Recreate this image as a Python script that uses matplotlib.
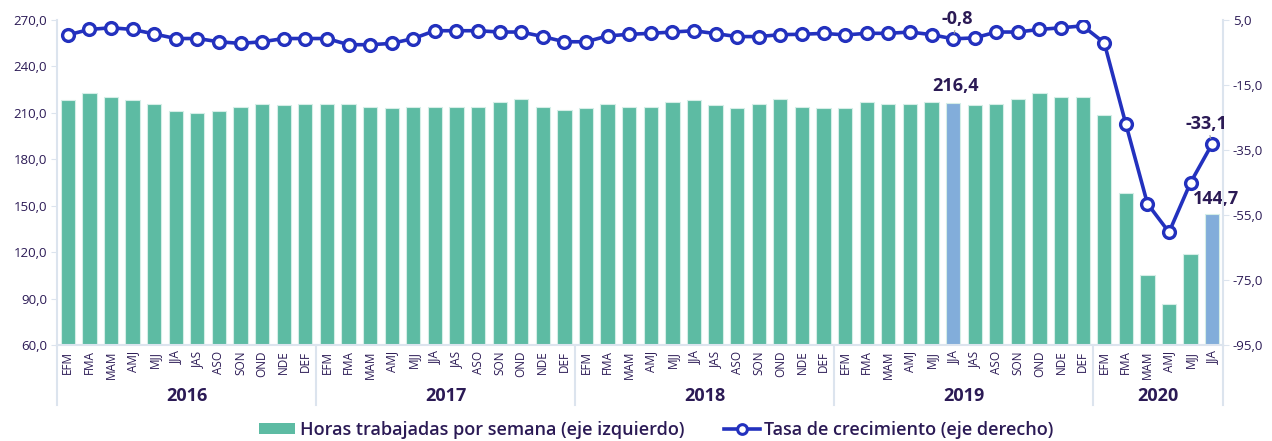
import matplotlib
matplotlib.use("Agg")
import matplotlib.pyplot as plt
from matplotlib.lines import Line2D
from matplotlib.patches import Patch
import matplotlib.transforms as mtransforms

plt.rcParams['font.family'] = ['Open Sans', 'DejaVu Sans']

months = ["EFM", "FMA", "MAM", "AMJ", "MJJ", "JJA", "JAS", "ASO", "SON", "OND", "NDE", "DEF"]
years = ["2016", "2017", "2018", "2019", "2020"]
year_counts = [12, 12, 12, 12, 6]
categories = months * 4 + months[:6]

horas = [218.1, 222.9, 220.0, 218.1, 216.0, 211.3, 210.2, 211.3, 214.0, 216.0, 215.1, 216.0,
         216.0, 216.0, 214.0, 213.2, 214.0, 214.0, 214.0, 214.0, 217.1, 219.0, 214.0, 212.1,
         213.2, 216.0, 214.0, 214.0, 217.1, 218.1, 215.1, 213.2, 216.0, 219.0, 214.0, 213.2,
         213.2, 217.1, 216.0, 216.0, 217.1, 216.4, 215.1, 216.0, 219.0, 222.9, 220.0, 220.0,
         208.3, 158.1, 105.0, 86.2, 118.9, 144.7]

tasa = [0.4, 2.1, 2.6, 2.1, 0.7, -0.7, -0.7, -1.7, -2.2, -1.7, -0.7, -0.7,
        -0.7, -2.6, -2.6, -2.2, -0.7, 1.7, 1.7, 1.7, 1.3, 1.3, -0.1, -1.7,
        -1.7, 0.1, 0.6, 0.9, 1.3, 1.7, 0.8, -0.1, -0.1, 0.5, 0.6, 0.9,
        0.4, 0.9, 0.9, 1.3, 0.5, -0.8, -0.5, 1.3, 1.3, 2.1, 2.6, 3.2,
        -2.0, -27.0, -51.5, -60.3, -45.0, -33.1]

highlight = [41, 53]

green = "#5DBBA3"
blue_bar = "#82ADDA"
line_c = "#2331BE"
text_c = "#2B1A55"
spine_c = "#DCE4EE"

fig = plt.figure(figsize=(12.72, 4.41), dpi=100)
ax = fig.add_axes([57 / 1272, 1 - 345 / 441, (1223 - 57) / 1272, 325 / 441])
x = list(range(len(horas)))
colors = [blue_bar if i in highlight else green for i in x]
ax.bar(x, horas, width=0.66, color=colors, edgecolor="#D5EEE7", linewidth=0.8, zorder=2)
ax.set_ylim(60, 270)
ax.set_xlim(-0.5, len(horas) - 0.5)
lt = [60, 90, 120, 150, 180, 210, 240, 270]
ax.set_yticks(lt)
ax.set_yticklabels([f"{v:.1f}".replace(".", ",") for v in lt])
ax.set_xticks(x)
ax.set_xticklabels(categories, rotation=90, fontsize=8.5, color=text_c, va="top")
ax.tick_params(axis="x", length=0, pad=4)
ax.tick_params(axis="y", length=4, color=spine_c, labelsize=9.5, labelcolor=text_c, pad=3)
for s in ["top", "right"]:
    ax.spines[s].set_visible(False)
for s in ["left", "bottom"]:
    ax.spines[s].set_color(spine_c)
    ax.spines[s].set_linewidth(1.5)

ax2 = ax.twinx()
ax2.plot(x, tasa, color=line_c, lw=2.6, marker="o", markersize=8.5,
         markerfacecolor="white", markeredgecolor=line_c, markeredgewidth=2.4, zorder=3)
ax2.set_ylim(-95, 5)
rt = [5, -15, -35, -55, -75, -95]
ax2.set_yticks(rt)
ax2.set_yticklabels([f"{v:.1f}".replace(".", ",") for v in rt])
ax2.tick_params(axis="y", length=4, color=spine_c, labelsize=9.5, labelcolor=text_c, pad=3)
for s in ["top", "left", "bottom"]:
    ax2.spines[s].set_visible(False)
ax2.spines["right"].set_color(spine_c)
ax2.spines["right"].set_linewidth(1.5)

# annotations
fmt = lambda v: f"{v:.1f}".replace(".", ",")
ax.annotate(fmt(horas[41]), (41, horas[41]), xytext=(2, 6), textcoords="offset points",
            ha="center", va="bottom", fontsize=13, fontweight="bold", color=text_c)
ax.annotate(fmt(horas[53]), (53, horas[53]), xytext=(3, 4), textcoords="offset points",
            ha="center", va="bottom", fontsize=13, fontweight="bold", color=text_c,
            zorder=5, annotation_clip=False)
ax2.annotate(fmt(tasa[41]), (41, tasa[41]), xytext=(3, 8), textcoords="offset points",
             ha="center", va="bottom", fontsize=13, fontweight="bold", color=text_c,
             arrowprops=dict(arrowstyle="-", color="#999999", lw=0.8, shrinkA=0, shrinkB=4))
ax2.annotate(fmt(tasa[53]), (53, tasa[53]), xytext=(-4, 8), textcoords="offset points",
             ha="center", va="bottom", fontsize=13, fontweight="bold", color=text_c,
             arrowprops=dict(arrowstyle="-", color="#999999", lw=0.8, shrinkA=0, shrinkB=4))

# year groups
trans = mtransforms.blended_transform_factory(ax.transData, ax.transAxes)
bounds = [-0.5]
for cnt in year_counts:
    bounds.append(bounds[-1] + cnt)
for b in bounds:
    ax.add_line(Line2D([b, b], [0, -0.185], transform=trans, color=spine_c, lw=1.5, clip_on=False))
for i, yr in enumerate(years):
    cx = (bounds[i] + bounds[i + 1]) / 2
    ax.text(cx, -0.157, yr, transform=trans, ha="center", va="center", fontsize=13,
            fontweight="bold", color=text_c)

handles = [Patch(facecolor=green, edgecolor="none"),
           Line2D([], [], color=line_c, lw=2.6, marker="o", markersize=7,
                  markerfacecolor="white", markeredgecolor=line_c, markeredgewidth=2.2)]
labels = ["Horas trabajadas por semana (eje izquierdo)", "Tasa de crecimiento (eje derecho)"]
leg = fig.legend(handles, labels, loc="center", bbox_to_anchor=(0.516, 0.025), ncol=2,
                 frameon=False, fontsize=13, handlelength=2.0, handleheight=0.5,
                 columnspacing=2.2, handletextpad=0.25)
for t in leg.get_texts():
    t.set_color(text_c)
    t.set_fontweight("semibold")

fig.savefig("out.png", dpi=100)
